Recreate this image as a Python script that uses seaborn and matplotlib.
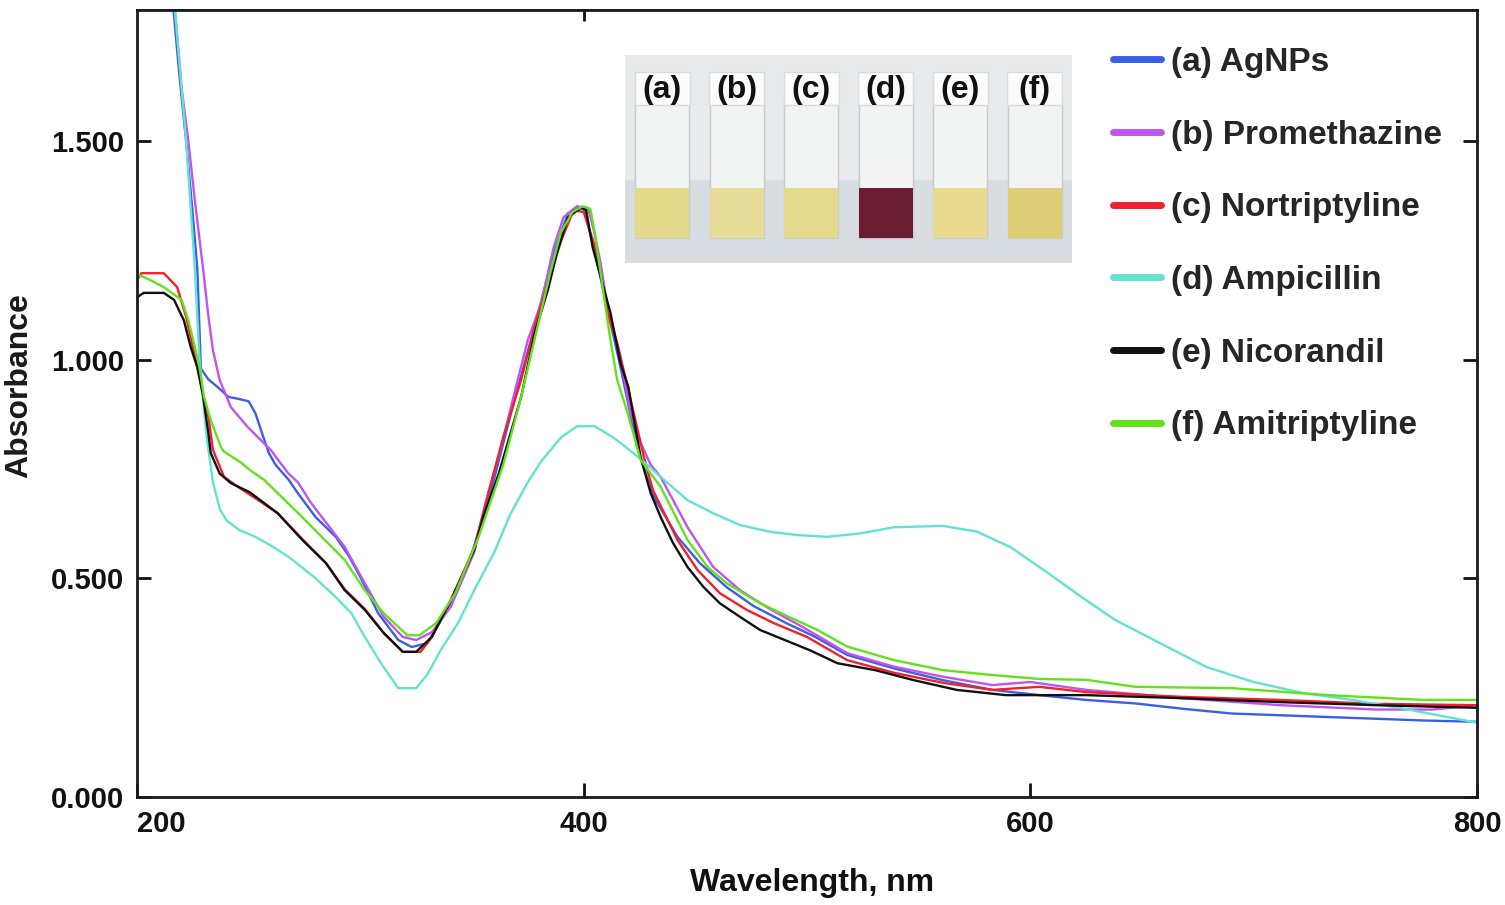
import numpy as np
import pandas as pd
import matplotlib
matplotlib.use('Agg')
import matplotlib.pyplot as plt
import seaborn as sns
from matplotlib.patches import Rectangle

# UV-vis spectra (wavelength in nm, absorbance)
agnps_nm = [200, 210, 216, 219, 222, 225, 227, 228.6, 232, 236, 241, 246, 250, 253, 256, 259, 262, 268,
            272, 280, 289, 295, 300, 308, 317, 323, 330, 338, 344, 349, 355, 360, 369, 378, 386.6, 393,
            397, 400, 404.5, 410.7, 416.5, 424, 431, 442, 452, 464, 476, 491, 503, 518, 539, 561, 583,
            604, 625, 647, 668, 690, 733, 776, 800]
agnps_abs = [2.6, 2.1, 1.82, 1.65, 1.5, 1.33, 1.21, 0.98, 0.955, 0.938, 0.915, 0.91, 0.905, 0.878, 0.832,
             0.787, 0.76, 0.725, 0.695, 0.64, 0.595, 0.55, 0.503, 0.42, 0.359, 0.343, 0.352, 0.42, 0.48,
             0.542, 0.64, 0.73, 0.908, 1.075, 1.244, 1.335, 1.349, 1.345, 1.258, 1.114, 0.983, 0.8, 0.69,
             0.595, 0.535, 0.48, 0.437, 0.397, 0.368, 0.325, 0.294, 0.267, 0.245, 0.233, 0.222, 0.214,
             0.202, 0.191, 0.183, 0.175, 0.172]

prometh_nm = [200, 210, 217, 220, 223, 226, 229.5, 232, 234, 237, 242, 249.6, 260, 267.6, 272, 278, 293,
              302, 310.5, 319, 325, 332, 340.5, 351, 357, 363, 369, 375, 381, 386.6, 391, 397, 402, 404.5,
              407.6, 410.7, 413.4, 416.5, 421, 425.5, 430, 434.5, 446.5, 458, 470, 484, 498, 518, 539,
              561, 583, 600, 625, 668, 712, 755, 780, 800]
prometh_abs = [2.6, 2.1, 1.8, 1.62, 1.5, 1.36, 1.212, 1.098, 1.022, 0.954, 0.892, 0.846, 0.793, 0.741,
               0.72, 0.672, 0.572, 0.489, 0.412, 0.366, 0.359, 0.377, 0.435, 0.56, 0.69, 0.8, 0.924, 1.045,
               1.13, 1.258, 1.326, 1.351, 1.347, 1.297, 1.221, 1.12, 1.068, 1.006, 0.878, 0.81, 0.76,
               0.732, 0.617, 0.526, 0.473, 0.428, 0.389, 0.329, 0.298, 0.275, 0.256, 0.263, 0.245, 0.226,
               0.21, 0.2, 0.2, 0.21]

nortrip_nm = [200, 202, 212, 218, 222, 225, 227, 229.5, 232, 234, 239, 245, 254, 263, 274, 284.6, 293,
              302, 310.5, 319, 327, 332, 340.5, 351, 355, 364, 372, 378, 384, 390, 395.5, 400, 406, 410.7,
              415, 419.7, 427, 431, 442, 451, 461, 473, 485, 500, 518, 539, 561, 583, 604, 625, 668, 712,
              755, 800]
nortrip_abs = [1.182, 1.198, 1.198, 1.166, 1.098, 1.03, 0.983, 0.924, 0.869, 0.794, 0.732, 0.71, 0.68,
               0.649, 0.59, 0.535, 0.475, 0.43, 0.375, 0.332, 0.332, 0.366, 0.45, 0.57, 0.65, 0.823, 0.954,
               1.075, 1.175, 1.274, 1.342, 1.338, 1.244, 1.107, 1.038, 0.938, 0.777, 0.702, 0.588, 0.519,
               0.466, 0.428, 0.398, 0.366, 0.313, 0.284, 0.261, 0.245, 0.252, 0.24, 0.229, 0.222, 0.213,
               0.21]

ampic_nm = [200, 210, 217, 222, 226, 228, 231, 234, 237, 240, 246, 253, 260, 268, 280, 289, 296, 302, 310,
            317, 325, 330, 336, 344, 351, 360, 367, 375, 381, 390, 397, 405, 413, 416.5, 425.5, 434.5,
            446.5, 458, 470, 484, 496, 509, 524, 539, 561, 576, 591, 608, 623, 638, 658, 679, 700, 722,
            744, 765, 800]
ampic_abs = [2.6, 2.1, 1.8, 1.5, 1.2, 1.0, 0.83, 0.72, 0.66, 0.633, 0.61, 0.595, 0.575, 0.549, 0.5, 0.457,
             0.42, 0.366, 0.3, 0.249, 0.249, 0.28, 0.336, 0.4, 0.473, 0.56, 0.645, 0.72, 0.768, 0.823,
             0.848, 0.848, 0.823, 0.81, 0.773, 0.732, 0.679, 0.649, 0.622, 0.606, 0.599, 0.595, 0.603,
             0.617, 0.62, 0.607, 0.572, 0.512, 0.457, 0.405, 0.352, 0.297, 0.263, 0.238, 0.222, 0.204,
             0.17]

nicor_nm = [200, 203, 212, 216.6, 221, 224, 227, 229.5, 232, 233, 237, 242, 250.5, 263, 274, 284.6, 293,
            302, 310.5, 319, 325, 332, 340.5, 351, 355, 362, 366, 372, 378, 384, 388, 393, 398.6, 401, 404,
            412, 416.5, 420, 422, 425.5, 430, 434.5, 440, 446.5, 453.7, 461, 470, 479, 491, 501.6, 513.6,
            530.6, 548, 567, 589, 625, 668, 712, 755, 800]
nicor_abs = [1.143, 1.153, 1.153, 1.137, 1.09, 1.03, 0.983, 0.92, 0.83, 0.787, 0.74, 0.718, 0.697, 0.649,
             0.588, 0.535, 0.473, 0.428, 0.375, 0.332, 0.332, 0.366, 0.45, 0.565, 0.64, 0.74, 0.81, 0.915,
             1.06, 1.16, 1.244, 1.326, 1.347, 1.345, 1.258, 1.107, 0.992, 0.938, 0.878, 0.777, 0.695,
             0.64, 0.581, 0.526, 0.48, 0.443, 0.412, 0.382, 0.357, 0.335, 0.306, 0.29, 0.267, 0.245,
             0.233, 0.233, 0.226, 0.217, 0.21, 0.204]

amitrip_nm = [200, 201, 206, 212, 220, 223, 225.5, 228, 230, 233, 237.6, 239, 246.5, 250.5, 257, 264, 274,
              293, 302, 310.5, 321, 326.5, 334, 342.5, 353, 364, 372, 379, 385, 389.7, 395, 399.5, 403,
              405, 407.6, 412, 415, 419.7, 425.5, 434.5, 446.5, 455.5, 464, 479, 491, 504.7, 518, 539,
              561, 583, 604, 625, 647, 690, 733, 776, 800]
amitrip_abs = [1.185, 1.194, 1.182, 1.166, 1.137, 1.09, 1.038, 0.983, 0.915, 0.862, 0.8, 0.79, 0.765,
               0.748, 0.725, 0.69, 0.64, 0.542, 0.473, 0.42, 0.37, 0.37, 0.398, 0.466, 0.595, 0.76, 0.915,
               1.068, 1.198, 1.29, 1.338, 1.351, 1.345, 1.29, 1.198, 1.045, 0.954, 0.878, 0.771, 0.709,
               0.588, 0.526, 0.489, 0.443, 0.414, 0.382, 0.344, 0.313, 0.29, 0.279, 0.27, 0.268, 0.252,
               0.249, 0.233, 0.222, 0.222]

labels = ['(a) AgNPs', '(b) Promethazine', '(c) Nortriptyline', '(d) Ampicillin', '(e) Nicorandil',
          '(f) Amitriptyline']
colors = ['#3b5ee8', '#bf55ee', '#f2202c', '#62e3cf', '#111111', '#62e21a']
all_nm = [agnps_nm, prometh_nm, nortrip_nm, ampic_nm, nicor_nm, amitrip_nm]
all_abs = [agnps_abs, prometh_abs, nortrip_abs, ampic_abs, nicor_abs, amitrip_abs]

xticks = [200, 400, 600, 800]
yticks = [0.0, 0.5, 1.0, 1.5]

# vial photo inset
vial_names = ['(a)', '(b)', '(c)', '(d)', '(e)', '(f)']
vial_colors = ['#e2d98a', '#e6dd9a', '#e4d98c', '#6a1c33', '#e9da92', '#dfcf78']

frames = []
for lab, x, y in zip(labels, all_nm, all_abs):
    frames.append(pd.DataFrame({'Wavelength': x, 'Absorbance': y, 'sample': lab}))
df = pd.concat(frames, ignore_index=True)

sns.set_theme(style='white')
plt.rcParams['font.family'] = ['Liberation Sans', 'DejaVu Sans']
plt.rcParams['font.weight'] = 'bold'

fig = plt.figure(figsize=(15.05, 9.05), dpi=100)
ax = fig.add_axes([137/1505, 108/905, 1340/1505, 787/905])
sns.lineplot(data=df, x='Wavelength', y='Absorbance', hue='sample', hue_order=labels,
             palette=dict(zip(labels, colors)), estimator=None, sort=False, linewidth=1.7, ax=ax)

ax.set_xlim(200, 800)
ax.set_ylim(0, 1.8)
ax.set_xticks(xticks, labels=[str(t) for t in xticks])
ax.set_yticks(yticks, labels=['%.3f' % t for t in yticks])
ax.get_xticklabels()[0].set_horizontalalignment('left')
ax.tick_params(direction='in', length=10, width=2, left=True, bottom=True, right=True,
               labelsize=21, pad=9, colors='#111111')
for s in ax.spines.values():
    s.set_visible(True)
    s.set_linewidth(2)
    s.set_color('#1a1a1a')

top = ax.secondary_xaxis('top')
top.set_xticks([400])
top.tick_params(direction='in', length=8, width=2, top=True, labeltop=False, colors='#111111')

ax.set_xlabel('Wavelength, nm', fontsize=23, fontweight='bold', color='#111111')
ax.xaxis.set_label_coords(0.504, -0.09)
ax.set_ylabel('Absorbance', fontsize=23, fontweight='bold', color='#1a1a1a')
ax.yaxis.set_label_coords(-0.077, 0.523)

handles, labs = ax.get_legend_handles_labels()
leg = ax.legend(handles, labs, loc='upper left', bbox_to_anchor=(1113/1505, 1 - 47/905),
                bbox_transform=fig.transFigure, frameon=False, fontsize=24, handlelength=1.45,
                handletextpad=0.3, labelspacing=1.25, borderpad=0, borderaxespad=0)
for h in leg.get_lines():
    h.set_linewidth(5)

ins = fig.add_axes([625/1505, (905-263)/905, 447/1505, 208/905])
ins.set_xlim(0, 6)
ins.set_ylim(0, 1)
ins.set_facecolor('#e8eaeb')
ins.add_patch(Rectangle((0, 0), 6, 0.4, color='#d7dde1', zorder=0))
for i, (nm, c) in enumerate(zip(vial_names, vial_colors)):
    cx = i + 0.5
    ins.add_patch(Rectangle((cx - 0.36, 0.12), 0.72, 0.66, facecolor='#f2f3f3', edgecolor='#c8ccce',
                            linewidth=1, zorder=1))
    ins.add_patch(Rectangle((cx - 0.36, 0.12), 0.72, 0.24, facecolor=c, edgecolor='none', zorder=2))
    ins.add_patch(Rectangle((cx - 0.37, 0.76), 0.74, 0.16, facecolor='#fbfbfb', edgecolor='#d9dcdd',
                            linewidth=1, zorder=2))
    ins.text(cx, 0.83, nm, ha='center', va='center', fontsize=23, fontweight='bold', color='#111111',
             zorder=3)
ins.set_xticks([])
ins.set_yticks([])
for s in ins.spines.values():
    s.set_visible(False)

fig.savefig('out.png', dpi=100)
